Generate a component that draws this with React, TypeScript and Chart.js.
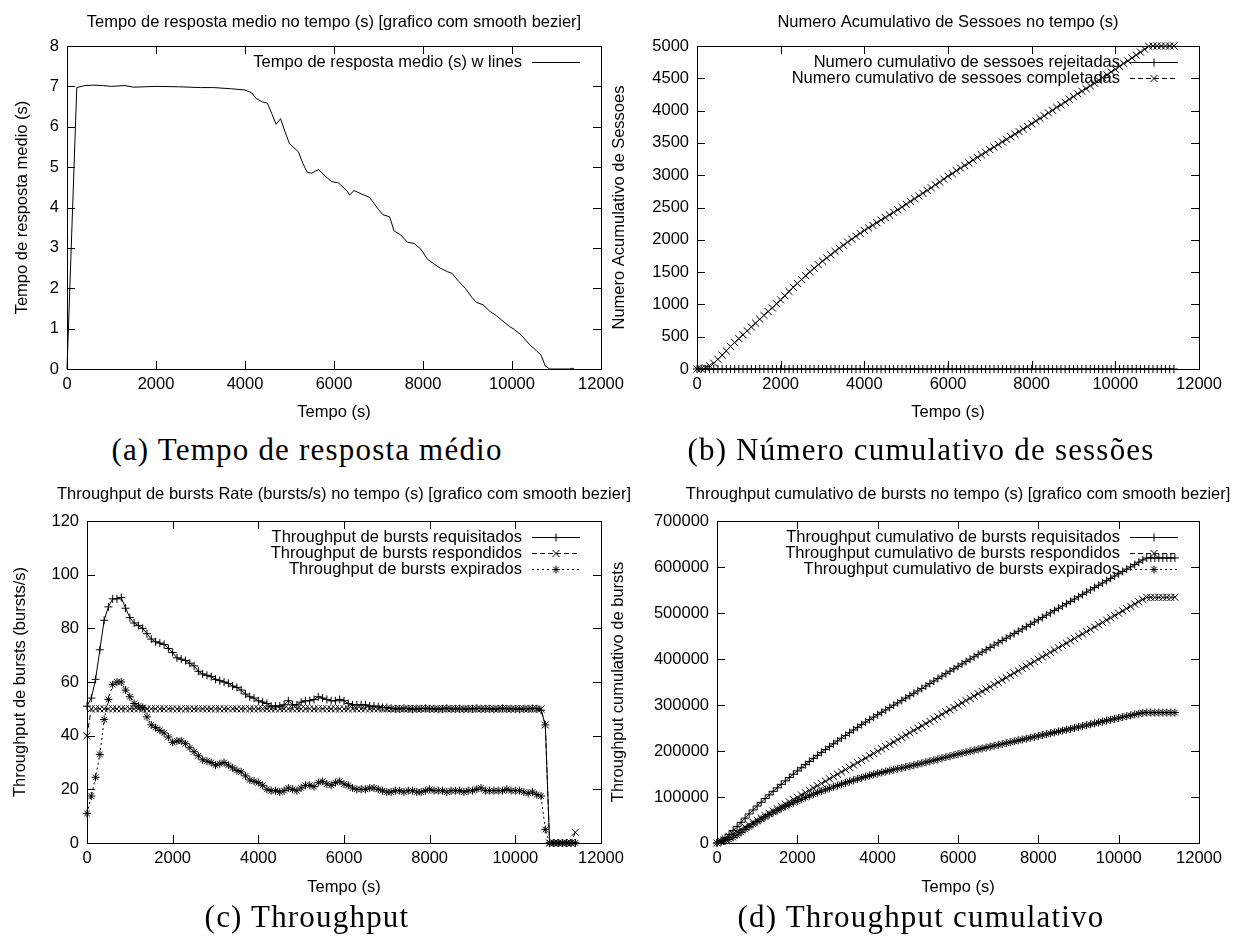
import React, { useEffect, useRef } from "react";
import { Chart, registerables } from "chart.js";
Chart.register(...registerables);

const SANS = "'Liberation Sans', Arial, Helvetica, sans-serif";
const FS = 16.5;

// ---------- (a) Tempo de resposta medio ----------
const tempoA = [0, 220, 400, 600, 800, 1000, 1300, 1500, 2000, 2500, 3000, 3300, 3700, 4000, 4150, 4250, 4400, 4500, 4600, 4700, 4800, 4900, 5000, 5200, 5300, 5400, 5500, 5650, 5800, 5950, 6100, 6300, 6350, 6450, 6650, 6800, 7000, 7100, 7250, 7350, 7500, 7650, 7800, 7950, 8100, 8250, 8400, 8550, 8650, 8800, 8950, 9100, 9200, 9350, 9500, 9650, 9800, 9950, 10050, 10200, 10400, 10550, 10650, 10750, 10850, 11000, 11300, 11350, 11400];
const tempoRespostaMedio = [0, 6.97, 7.02, 7.03, 7.02, 7.0, 7.02, 6.98, 7.0, 6.99, 6.97, 6.97, 6.94, 6.91, 6.84, 6.7, 6.61, 6.59, 6.33, 6.06, 6.2, 5.87, 5.58, 5.38, 5.09, 4.87, 4.85, 4.94, 4.78, 4.64, 4.61, 4.4, 4.31, 4.42, 4.32, 4.25, 3.95, 3.82, 3.77, 3.42, 3.32, 3.14, 3.11, 2.97, 2.72, 2.6, 2.49, 2.41, 2.37, 2.17, 2.0, 1.77, 1.65, 1.59, 1.43, 1.32, 1.18, 1.05, 0.98, 0.85, 0.6, 0.45, 0.35, 0.07, 0, 0, 0, 0.02, 0];

// ---------- shared time axis for (b), (c), (d) ----------
const tempo = [0, 100, 200, 300, 400, 500, 600, 700, 800, 900, 1000, 1100, 1200, 1300, 1400, 1500, 1600, 1700, 1800, 1900, 2000, 2100, 2200, 2300, 2400, 2500, 2600, 2700, 2800, 2900, 3000, 3100, 3200, 3300, 3400, 3500, 3600, 3700, 3800, 3900, 4000, 4100, 4200, 4300, 4400, 4500, 4600, 4700, 4800, 4900, 5000, 5100, 5200, 5300, 5400, 5500, 5600, 5700, 5800, 5900, 6000, 6100, 6200, 6300, 6400, 6500, 6600, 6700, 6800, 6900, 7000, 7100, 7200, 7300, 7400, 7500, 7600, 7700, 7800, 7900, 8000, 8100, 8200, 8300, 8400, 8500, 8600, 8700, 8800, 8900, 9000, 9100, 9200, 9300, 9400, 9500, 9600, 9700, 9800, 9900, 10000, 10100, 10200, 10300, 10400, 10500, 10600, 10700, 10800, 10900, 11000, 11100, 11200, 11300, 11400];

// ---------- (b) Numero cumulativo de sessoes ----------
const sessoesRejeitadas = [0, 0, 0, 0, 0, 0, 0, 0, 0, 0, 0, 0, 0, 0, 0, 0, 0, 0, 0, 0, 0, 0, 0, 0, 0, 0, 0, 0, 0, 0, 0, 0, 0, 0, 0, 0, 0, 0, 0, 0, 0, 0, 0, 0, 0, 0, 0, 0, 0, 0, 0, 0, 0, 0, 0, 0, 0, 0, 0, 0, 0, 0, 0, 0, 0, 0, 0, 0, 0, 0, 0, 0, 0, 0, 0, 0, 0, 0, 0, 0, 0, 0, 0, 0, 0, 0, 0, 0, 0, 0, 0, 0, 0, 0, 0, 0, 0, 0, 0, 0, 0, 0, 0, 0, 0, 0, 0, 0, 0, 0, 0, 0, 0, 0, 0];
const sessoesCompletadas = [0, 5, 20, 50, 90, 150, 215, 280, 350, 410, 470, 530, 590, 650, 710, 770, 830, 890, 945, 1010, 1070, 1135, 1200, 1265, 1325, 1385, 1445, 1505, 1560, 1615, 1670, 1720, 1770, 1820, 1870, 1915, 1965, 2010, 2055, 2100, 2145, 2185, 2225, 2265, 2305, 2345, 2385, 2425, 2465, 2505, 2550, 2595, 2635, 2680, 2720, 2765, 2805, 2850, 2895, 2940, 2985, 3025, 3070, 3110, 3150, 3190, 3235, 3275, 3315, 3355, 3395, 3435, 3475, 3515, 3555, 3595, 3635, 3675, 3715, 3755, 3795, 3840, 3880, 3920, 3965, 4005, 4050, 4090, 4130, 4175, 4215, 4260, 4300, 4340, 4385, 4425, 4470, 4510, 4555, 4600, 4640, 4685, 4730, 4770, 4815, 4860, 4905, 4950, 4995, 5000, 5000, 5000, 5000, 5000, 5000];

// ---------- (c) Throughput (bursts/s) ----------
const burstsRequisitados = [51, 54, 61, 72, 83, 88, 91, 91, 91.5, 87.5, 84, 82, 81, 80, 78, 76, 75, 74.5, 74, 72.5, 71, 69, 68.5, 68, 67, 66, 64, 63, 62.5, 62, 61, 60.5, 60, 59.5, 58.5, 58, 57, 55.5, 54.5, 54, 53, 52.5, 52, 51, 51, 51, 51.5, 53, 51.5, 51.5, 52.5, 53, 53, 53.5, 54.5, 54, 53.5, 53, 53, 53.5, 53, 52, 51.5, 51.5, 51.5, 51.5, 51, 51, 50.8, 50.5, 50.5, 50.2, 50, 50, 50.2, 50, 49.8, 50, 50, 50.2, 50, 50, 49.8, 50, 50.2, 50, 50, 50, 49.8, 50, 50, 50.2, 50, 50, 50, 49.8, 50, 50.2, 50, 50, 50, 49.8, 50, 50, 50.2, 50, 49.5, 44, 0, 0, 0, 0, 0, 0, 0];
const burstsRespondidos = [40, 50, 50, 50, 50, 50, 50, 50, 50, 50, 50, 50, 50, 50, 50, 50, 50, 50, 50, 50, 50, 50, 50, 50, 50, 50, 50, 50, 50, 50, 50, 50, 50, 50, 50, 50, 50, 50, 50, 50, 50, 50, 50, 50, 50, 50, 50, 50, 50, 50, 50, 50, 50, 50, 50, 50, 50, 50, 50, 50, 50, 50, 50, 50, 50, 50, 50, 50, 50, 50, 50, 50, 50, 50, 50, 50, 50, 50, 50, 50, 50, 50, 50, 50, 50, 50, 50, 50, 50, 50, 50, 50, 50, 50, 50, 50, 50, 50, 50, 50, 50, 50, 50, 50, 50, 50, 50, 44, 0, 0, 0, 0, 0, 0, 4];
const burstsExpirados = [11, 17.5, 24.5, 33, 46, 53.5, 59, 60, 60, 57, 54.5, 52, 51, 50.5, 47, 44, 43, 42, 41, 39.5, 37.5, 38, 38, 37, 35.5, 34, 32.5, 31, 30.5, 30, 29, 29.5, 30, 29, 28, 27, 26.5, 25, 23.5, 23, 22.5, 21.5, 20, 19.5, 19.5, 19, 19.5, 20.5, 20, 19.5, 20.5, 21.5, 21.5, 21, 22.5, 23, 22, 21.5, 22.5, 23, 22, 21.5, 20.5, 20, 20, 20, 20.5, 20.5, 20, 19.5, 19, 19, 19.5, 19.5, 19, 19.5, 19.5, 19, 19, 19.5, 20, 19.5, 19.5, 19.5, 19, 19.5, 19.5, 19.5, 19, 19.5, 19.5, 20, 20.5, 19.5, 19.5, 19.5, 19.5, 19.5, 20, 19.5, 19.5, 19.5, 19, 18.5, 19, 18, 17.5, 5, 0, 0, 0, 0, 0, 0, 0];

// ---------- (d) Throughput cumulativo ----------
const cumRequisitados = [0, 5400, 11500, 18700, 27000, 35800, 44900, 54000, 63200, 71900, 80300, 88500, 96600, 104600, 112400, 120000, 127500, 135000, 142400, 149600, 156700, 163600, 170500, 177300, 184000, 190600, 197000, 203300, 209500, 215700, 221800, 227900, 233900, 239800, 245700, 251500, 257200, 262800, 268200, 273600, 278900, 284200, 289400, 294500, 299600, 304700, 309900, 315200, 320300, 325500, 330700, 336000, 341300, 346700, 352100, 357500, 362900, 368200, 373500, 378800, 384100, 389300, 394500, 399600, 404800, 409900, 415000, 420100, 425200, 430200, 435300, 440300, 445300, 450300, 455300, 460300, 465300, 470300, 475300, 480300, 485300, 490300, 495300, 500300, 505300, 510300, 515300, 520300, 525300, 530300, 535300, 540300, 545300, 550300, 555300, 560300, 565300, 570300, 575300, 580300, 585300, 590300, 595300, 600300, 605300, 610300, 615300, 619700, 619700, 619700, 619700, 619700, 619700, 619700, 619700];
const cumRespondidos = [0, 4500, 9500, 14500, 19500, 24500, 29500, 34500, 39500, 44500, 49500, 54500, 59500, 64500, 69500, 74500, 79500, 84500, 89500, 94500, 99500, 104500, 109500, 114500, 119500, 124500, 129500, 134500, 139500, 144500, 149500, 154500, 159500, 164500, 169500, 174500, 179500, 184500, 189500, 194500, 199500, 204500, 209500, 214500, 219500, 224500, 229500, 234500, 239500, 244500, 249500, 254500, 259500, 264500, 269500, 274500, 279500, 284500, 289500, 294500, 299500, 304500, 309500, 314500, 319500, 324500, 329500, 334500, 339500, 344500, 349500, 354500, 359500, 364500, 369500, 374500, 379500, 384500, 389500, 394500, 399500, 404500, 409500, 414500, 419500, 424500, 429500, 434500, 439500, 444500, 449500, 454500, 459500, 464500, 469500, 474500, 479500, 484500, 489500, 494500, 499500, 504500, 509500, 514500, 519500, 524500, 529500, 533900, 533900, 533900, 533900, 533900, 533900, 533900, 534300];
const cumExpirados = [0, 1750, 4200, 7500, 12100, 17450, 23350, 29350, 35350, 41050, 46500, 51700, 56800, 61850, 66550, 70950, 75250, 79450, 83550, 87500, 91250, 95050, 98850, 102550, 106100, 109500, 112750, 115850, 118900, 121900, 124800, 127750, 130750, 133650, 136450, 139150, 141800, 144300, 146650, 148950, 151200, 153350, 155350, 157300, 159250, 161150, 163100, 165150, 167150, 169100, 171150, 173300, 175450, 177550, 179800, 182100, 184300, 186450, 188700, 191000, 193200, 195350, 197400, 199400, 201400, 203400, 205450, 207500, 209500, 211450, 213350, 215250, 217200, 219150, 221050, 223000, 224950, 226850, 228750, 230700, 232700, 234650, 236600, 238550, 240450, 242400, 244350, 246300, 248200, 250150, 252100, 254100, 256150, 258100, 260050, 262000, 263950, 265900, 267900, 269850, 271800, 273750, 275650, 277500, 279400, 281200, 282950, 283450, 283450, 283450, 283450, 283450, 283450, 283450, 283450];

// ---------- helpers ----------
function drawMarker(ctx: CanvasRenderingContext2D, style: string, x: number, y: number, r: number) {
  ctx.beginPath();
  if (style === "cross" || style === "star") {
    ctx.moveTo(x - r, y); ctx.lineTo(x + r, y);
    ctx.moveTo(x, y - r); ctx.lineTo(x, y + r);
  }
  if (style === "crossRot" || style === "star") {
    const d = r * Math.SQRT1_2;
    ctx.moveTo(x - d, y - d); ctx.lineTo(x + d, y + d);
    ctx.moveTo(x - d, y + d); ctx.lineTo(x + d, y - d);
  }
  ctx.stroke();
}

const gnuFrame = {
  id: "gnuFrame",
  afterDatasetsDraw(chart: any) {
    const { ctx, chartArea: a, scales } = chart;
    const L = 8;
    ctx.save();
    ctx.strokeStyle = "#000";
    ctx.lineWidth = 1;
    ctx.setLineDash([]);
    ctx.beginPath();
    const xs = scales.x, ys = scales.y;
    ys.ticks.forEach((t: any) => {
      const p = Math.round(ys.getPixelForValue(t.value)) + 0.5;
      ctx.moveTo(a.left, p); ctx.lineTo(a.left + L, p);
      ctx.moveTo(a.right, p); ctx.lineTo(a.right - L, p);
    });
    xs.ticks.forEach((t: any) => {
      const p = Math.round(xs.getPixelForValue(t.value)) + 0.5;
      ctx.moveTo(p, a.bottom); ctx.lineTo(p, a.bottom - L);
      ctx.moveTo(p, a.top); ctx.lineTo(p, a.top + L);
    });
    ctx.stroke();
    ctx.strokeRect(Math.round(a.left) + 0.5, Math.round(a.top) + 0.5, Math.round(a.right - a.left), Math.round(a.bottom - a.top));
    ctx.restore();
  },
};

const gnuKey = {
  id: "gnuKey",
  afterDraw(chart: any) {
    const { ctx, chartArea: a } = chart;
    ctx.save();
    ctx.font = `${FS}px ${SANS}`;
    ctx.textAlign = "right";
    ctx.textBaseline = "middle";
    ctx.fillStyle = "#000";
    ctx.strokeStyle = "#000";
    ctx.lineWidth = 1;
    chart.data.datasets.forEach((ds: any, i: number) => {
      const y = Math.round(a.top + 16 * (i + 1)) + 0.5;
      ctx.fillText(ds.label, a.right - 79, y);
      ctx.setLineDash(ds.borderDash || []);
      ctx.beginPath();
      ctx.moveTo(a.right - 69, y);
      ctx.lineTo(a.right - 21, y);
      ctx.stroke();
      ctx.setLineDash([]);
      if (ds.pointRadius > 0) drawMarker(ctx, ds.pointStyle, a.right - 45, y, ds.pointRadius);
    });
    ctx.restore();
  },
};

function series(label: string, xs: number[], ys: number[], style: string, dash: number[], r: number) {
  return {
    label,
    data: xs.map((x, i) => ({ x, y: ys[i] })),
    borderColor: "#000",
    borderWidth: 1,
    borderDash: dash,
    pointStyle: style,
    pointRadius: r,
    pointHoverRadius: r,
    pointBorderColor: "#000",
    pointBorderWidth: 1,
    pointBackgroundColor: "rgba(0,0,0,0)",
    tension: 0,
    fill: false,
    clip: 8,
  };
}

const font = { family: SANS, size: FS, weight: "normal" as const, lineHeight: 1.2 };

type Spec = {
  title: string; yTitle: string; yMax: number; yStep: number;
  side: number; titlePad: [number, number]; xHeight: number; yTitlePad: number;
};

function makeOptions(p: Spec) {
  return {
    responsive: false,
    animation: false as const,
    devicePixelRatio: 1,
    events: [],
    layout: { padding: 0 },
    plugins: {
      legend: { display: false },
      tooltip: { enabled: false },
      title: { display: true, text: p.title, color: "#000", font, padding: { top: p.titlePad[0], bottom: p.titlePad[1] } },
    },
    scales: {
      x: {
        type: "linear", min: 0, max: 12000,
        afterFit: (s: any) => { s.height = p.xHeight; },
        grid: { display: false, drawTicks: false }, border: { display: false },
        ticks: { stepSize: 2000, padding: 6, color: "#000", font, maxRotation: 0, autoSkip: false, callback: (v: any) => String(v) },
        title: { display: true, text: "Tempo (s)", color: "#000", font, padding: { top: 0, bottom: 3.1 } },
      },
      y: {
        type: "linear", position: "left", min: 0, max: p.yMax,
        afterFit: (s: any) => { s.width = p.side; },
        grid: { display: false, drawTicks: false }, border: { display: false },
        ticks: { stepSize: p.yStep, padding: 8, color: "#000", font, autoSkip: false, callback: (v: any) => String(v) },
        title: { display: true, text: p.yTitle, color: "#000", font, padding: { top: p.yTitlePad, bottom: 0 } },
      },
      yr: {
        type: "linear", position: "right", display: true,
        afterFit: (s: any) => { s.width = p.side; },
        grid: { display: false, drawTicks: false }, border: { display: false },
        ticks: { display: false },
      },
    },
  };
}

function Panel({ left, top, width, height, build }: { left: number; top: number; width: number; height: number; build: () => any }) {
  const ref = useRef<HTMLCanvasElement>(null);
  useEffect(() => {
    const chart = new Chart(ref.current as HTMLCanvasElement, build());
    return () => chart.destroy();
  }, []);
  return <canvas ref={ref} width={width} height={height} style={{ position: "absolute", left, top, width, height }} />;
}

const chartA = () => ({
  type: "line",
  data: { datasets: [series("Tempo de resposta medio (s) w lines", tempoA, tempoRespostaMedio, "cross", [], 0)] },
  options: makeOptions({ title: "Tempo de resposta medio no tempo (s) [grafico com smooth bezier]", yTitle: "Tempo de resposta medio (s)", yMax: 8, yStep: 1, side: 67, titlePad: [12.1, 14.1], xHeight: 56, yTitlePad: 12.1 }),
  plugins: [gnuFrame, gnuKey],
});

const chartB = () => ({
  type: "line",
  data: {
    datasets: [
      series("Numero cumulativo de sessoes rejeitadas", tempo, sessoesRejeitadas, "cross", [], 4),
      series("Numero cumulativo de sessoes completadas", tempo, sessoesCompletadas, "crossRot", [5, 3], 5),
    ],
  },
  options: makeOptions({ title: "Numero Acumulativo de Sessoes no tempo (s)", yTitle: "Numero Acumulativo de Sessoes", yMax: 5000, yStep: 500, side: 97, titlePad: [12.1, 14.1], xHeight: 56, yTitlePad: 9.1 }),
  plugins: [gnuFrame, gnuKey],
});

const chartC = () => ({
  type: "line",
  data: {
    datasets: [
      series("Throughput de bursts requisitados", tempo, burstsRequisitados, "cross", [], 4),
      series("Throughput de bursts respondidos", tempo, burstsRespondidos, "crossRot", [5, 3], 5),
      series("Throughput de bursts expirados", tempo, burstsExpirados, "star", [2, 3], 4),
    ],
  },
  options: makeOptions({ title: "Throughput de bursts Rate (bursts/s) no tempo (s) [grafico com smooth bezier]", yTitle: "Throughput de bursts (bursts/s)", yMax: 120, yStep: 20, side: 87, titlePad: [14.1, 17.1], xHeight: 57, yTitlePad: 10.1 }),
  plugins: [gnuFrame, gnuKey],
});

const chartD = () => ({
  type: "line",
  data: {
    datasets: [
      series("Throughput cumulativo de bursts requisitados", tempo, cumRequisitados, "cross", [], 4),
      series("Throughput cumulativo de bursts respondidos", tempo, cumRespondidos, "crossRot", [5, 3], 5),
      series("Throughput cumulativo de bursts expirados", tempo, cumExpirados, "star", [2, 3], 4),
    ],
  },
  options: makeOptions({ title: "Throughput cumulativo de bursts no tempo (s) [grafico com smooth bezier]", yTitle: "Throughput cumulativo de bursts", yMax: 700000, yStep: 100000, side: 117, titlePad: [14.1, 17.1], xHeight: 57, yTitlePad: 8.1 }),
  plugins: [gnuFrame, gnuKey],
});

const captionStyle = (cx: number, cy: number): React.CSSProperties => ({
  position: "absolute",
  left: cx - 320,
  width: 640,
  top: cy - 18,
  height: 36,
  lineHeight: "36px",
  textAlign: "center",
  fontFamily: "'Liberation Serif', 'Times New Roman', serif",
  fontSize: 31,
  letterSpacing: "1.2px",
  color: "#000",
  whiteSpace: "nowrap",
});

export default function App() {
  return (
    <div style={{ position: "fixed", left: 0, top: 0, width: 1238, height: 939, overflow: "hidden", background: "#fff" }}>
      <Panel left={0} top={0} width={668} height={425} build={chartA} />
      <Panel left={600} top={0} width={696} height={425} build={chartB} />
      <Panel left={0} top={470} width={688} height={430} build={chartC} />
      <Panel left={600} top={470} width={716} height={430} build={chartD} />
      <div style={captionStyle(307, 450)}>(a) Tempo de resposta médio</div>
      <div style={captionStyle(921, 450)}>(b) Número cumulativo de sessões</div>
      <div style={captionStyle(307, 917)}>(c) Throughput</div>
      <div style={captionStyle(921, 917)}>(d) Throughput cumulativo</div>
    </div>
  );
}
